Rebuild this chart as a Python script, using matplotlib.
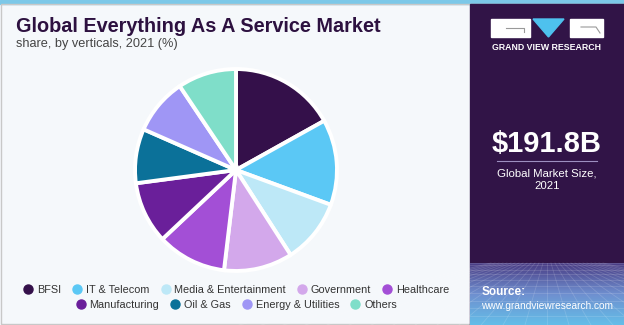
import numpy as np
import matplotlib
matplotlib.use('Agg')
import matplotlib.pyplot as plt
from matplotlib.patches import Rectangle, Polygon
from matplotlib.lines import Line2D

plt.rcParams['font.family'] = ['Liberation Sans', 'DejaVu Sans']

# 各行业份额 (%)
verticals = ['BFSI', 'IT & Telecom', 'Media & Entertainment', 'Government', 'Healthcare',
             'Manufacturing', 'Oil & Gas', 'Energy & Utilities', 'Others']
shares = [16.9, 13.7, 10.3, 11.0, 11.1, 9.9, 8.7, 9.0, 9.4]
colors = ['#34104a', '#5bc8f5', '#bde8f7', '#d3a8eb', '#a34fd6',
          '#6a1f9a', '#0b7199', '#9f96f5', '#7fdec9']

market_size = '$191.8B'
market_label = 'Global Market Size,\n2021'

W, H = 624, 325
fig = plt.figure(figsize=(W / 100, H / 100), dpi=100)
fig.patch.set_facecolor('#f5f8fb')


def fx(x):
    return x / W


def fy(y):
    return 1 - y / H


# 背景和边框
bg = fig.add_axes([0, 0, 1, 1])
bg.set_xlim(0, W)
bg.set_ylim(H, 0)
bg.axis('off')
bg.add_patch(Rectangle((0, 0), W, 4, color='#7cc8e8', zorder=1))
bg.add_patch(Rectangle((0.5, 4), W - 1, H - 5, fill=False, ec='#c8c8c8', lw=1, zorder=1))

# 右侧面板
px0 = 470
bg.add_patch(Rectangle((px0, 4), W - px0, H - 4, color='#311447', zorder=2))
grad = np.linspace(0, 1, 64).reshape(-1, 1)
cmap = matplotlib.colors.LinearSegmentedColormap.from_list('panel', ['#4a3d85', '#6f8fcf', '#64bde8'])
bg.imshow(grad, extent=(px0, W, H, 263), cmap=cmap, aspect='auto', zorder=3)
# 网格纹理
for k in range(-14, 15):
    bg.plot([(px0 + W) / 2 + k * 4, (px0 + W) / 2 + k * 22], [263, H], color='white', alpha=0.15, lw=0.6, zorder=4)
for k in range(10):
    yy = 263 + (H - 263) * (k / 10) ** 1.4
    bg.plot([px0, W], [yy, yy], color='white', alpha=0.15, lw=0.6, zorder=4)

# 标志
bg.add_patch(Rectangle((491, 19), 39, 18, color='white', zorder=5))
bg.plot([506, 524, 524], [28, 28, 32], color='#999999', lw=0.8, zorder=6)
bg.add_patch(Polygon([(533, 19), (564, 19), (548.5, 37)], color='#4ec1ee', zorder=5))
bg.add_patch(Rectangle((570, 19), 33, 18, color='white', zorder=5))
bg.plot([581, 596, 600], [27, 27, 33], color='#999999', lw=0.8, zorder=6)
fig.text(fx(547), fy(47), 'GRAND VIEW RESEARCH', color='white', fontsize=6.3,
         fontweight='bold', ha='center', va='center')

fig.text(fx(547), fy(144), market_size, color='white', fontsize=21,
         fontweight='bold', ha='center', va='center')
bg.plot([497, 597], [161, 161], color='#9d8fc0', lw=0.8, zorder=6)
fig.text(fx(547), fy(180), market_label, color='white', fontsize=8.2,
         ha='center', va='center', linespacing=1.3)
fig.text(fx(482), fy(292), 'Source:', color='white', fontsize=8.5,
         fontweight='bold', ha='left', va='center')
fig.text(fx(481), fy(306), 'www.grandviewresearch.com', color='white', fontsize=7.3,
         ha='left', va='center')

# 标题
fig.text(fx(16), fy(26), 'Global Everything As A Service Market', color='#2d1140',
         fontsize=14.3, fontweight='bold', ha='left', va='center')
fig.text(fx(16), fy(44), 'share, by verticals, 2021 (%)', color='#444444',
         fontsize=9.2, ha='left', va='center')

# 饼图
cx, cy, r = 236, 170, 103
ax = fig.add_axes([fx(cx - r), fy(cy + r), 2 * r / W, 2 * r / H])
wedges, _ = ax.pie(shares, colors=colors, startangle=90, counterclock=False,
                   wedgeprops=dict(edgecolor='white', linewidth=2.8))
ax.set_xlim(-1.02, 1.02)
ax.set_ylim(-1.02, 1.02)
ax.set_aspect('equal')

# 图例（两行居中）
handles = [Line2D([0], [0], marker='o', color='none', markerfacecolor=c,
                  markeredgecolor=c, markersize=6.5) for c in colors]
leg_kw = dict(frameon=False, fontsize=7.8, handletextpad=0.3, columnspacing=1.0,
              handlelength=1.0, borderaxespad=0)
leg1 = fig.legend(handles[:5], verticals[:5], ncol=5, loc='center',
                  bbox_to_anchor=(fx(236), fy(290)), **leg_kw)
leg2 = fig.legend(handles[5:], verticals[5:], ncol=4, loc='center',
                  bbox_to_anchor=(fx(236), fy(305)), **leg_kw)
for leg in (leg1, leg2):
    for t in leg.get_texts():
        t.set_color('#333333')

fig.savefig('out.png', dpi=100, facecolor=fig.get_facecolor())
